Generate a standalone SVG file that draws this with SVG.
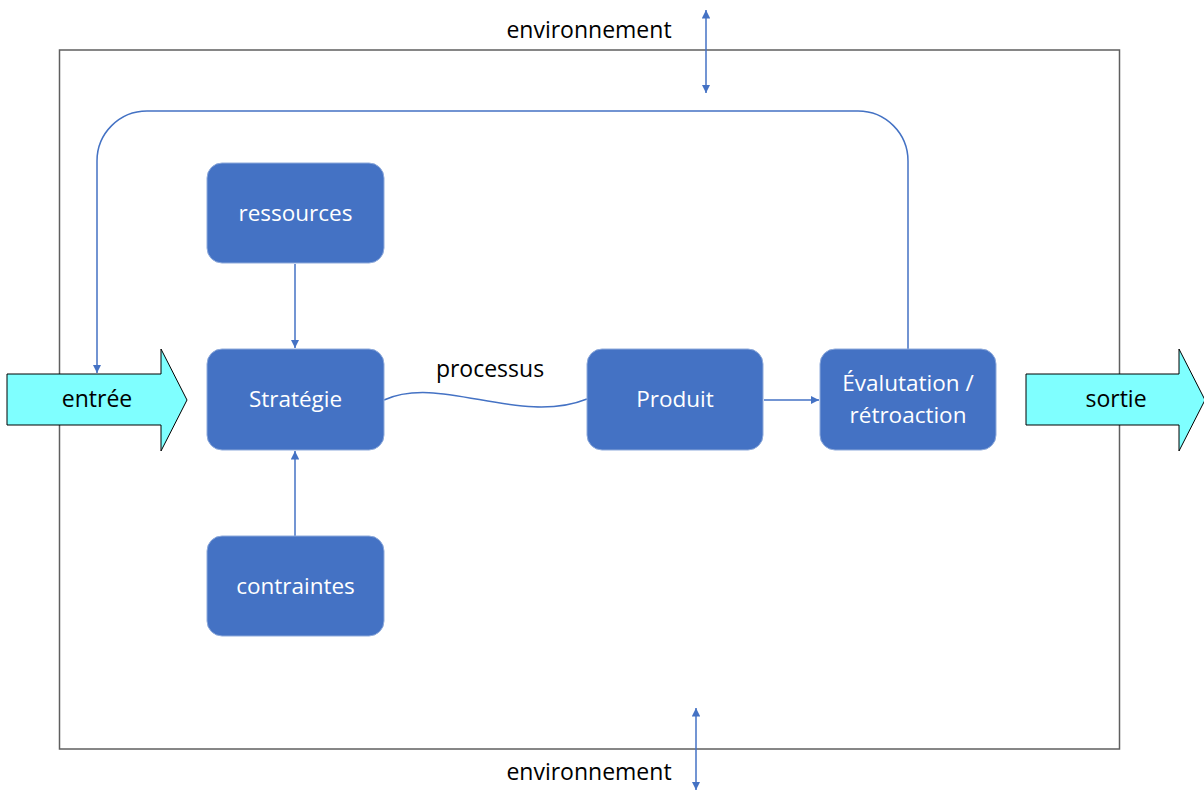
<svg xmlns="http://www.w3.org/2000/svg" width="1204" height="790" viewBox="0 0 1204 790">
<style>
.lbl{font-family:"Open Sans","Liberation Sans",sans-serif;font-size:23px;fill:#000;text-anchor:middle}
.ntx{font-family:"Open Sans","Liberation Sans",sans-serif;font-size:22.5px;fill:#fff;text-anchor:middle}
.node{fill:#4472C4;stroke:#8eaadb;stroke-width:1}
.big{fill:#7FFFFF;stroke:#000;stroke-width:1}
.con{fill:none;stroke:#4472C4;stroke-width:1.5}
</style>
<defs>
<marker id="ah" viewBox="0 0 10 10" refX="10" refY="5" markerWidth="8.5" markerHeight="8.5" markerUnits="userSpaceOnUse" orient="auto-start-reverse">
<path d="M0,0 L10,5 L0,10 z" fill="#4472C4"/>
</marker>
</defs>
<rect width="1204" height="790" fill="#fff"/>
<g id="boundary">
<rect x="59.5" y="50" width="1060" height="699" fill="none" stroke="#5f5f5f" stroke-width="1.5"/>
</g>
<g id="entree">
<path class="big" d="M7,374 H161 V349 L187,400 L161,451 V425 H7 Z"/>
<text class="lbl" x="97" y="407">entrée</text>
</g>
<g id="sortie">
<path class="big" d="M1026,374 H1179 V349 L1205,400 L1179,451 V425 H1026 Z"/>
<text class="lbl" x="1116" y="407">sortie</text>
</g>
<g id="connectors">
<line class="con" x1="295" y1="264" x2="295" y2="348" marker-end="url(#ah)"/>
<line class="con" x1="295" y1="536" x2="295" y2="451" marker-end="url(#ah)"/>
<line class="con" x1="764" y1="400" x2="819" y2="400" marker-end="url(#ah)"/>
<path class="con" d="M384,400 C440,374 520,426 587,399"/>
<path class="con" d="M908,349 V161 A50,50 0 0 0 858,111 H147 A50,50 0 0 0 97,161 V373" marker-end="url(#ah)"/>
<line class="con" x1="706" y1="10" x2="706" y2="93" marker-start="url(#ah)" marker-end="url(#ah)"/>
<line class="con" x1="696" y1="708" x2="696" y2="790" marker-start="url(#ah)" marker-end="url(#ah)"/>
</g>
<g id="env-top"><text class="lbl" x="589" y="38">environnement</text></g>
<g id="env-bottom"><text class="lbl" x="589" y="780">environnement</text></g>
<g id="processus-label"><text class="lbl" x="490" y="377">processus</text></g>
<g id="ressources">
<rect class="node" x="207" y="163" width="177" height="100" rx="15"/>
<text class="ntx" x="295.5" y="221">ressources</text>
</g>
<g id="strategie">
<rect class="node" x="207" y="349" width="177" height="101" rx="15"/>
<text class="ntx" x="295.5" y="407">Stratégie</text>
</g>
<g id="contraintes">
<rect class="node" x="207" y="536" width="177" height="100" rx="15"/>
<text class="ntx" x="295.5" y="594">contraintes</text>
</g>
<g id="produit">
<rect class="node" x="587" y="349" width="176" height="101" rx="15"/>
<text class="ntx" x="675" y="407">Produit</text>
</g>
<g id="evaluation">
<rect class="node" x="820" y="349" width="176" height="101" rx="15"/>
<text class="ntx" x="908" y="391">Évalutation /</text>
<text class="ntx" x="908" y="423">rétroaction</text>
</g>
</svg>
